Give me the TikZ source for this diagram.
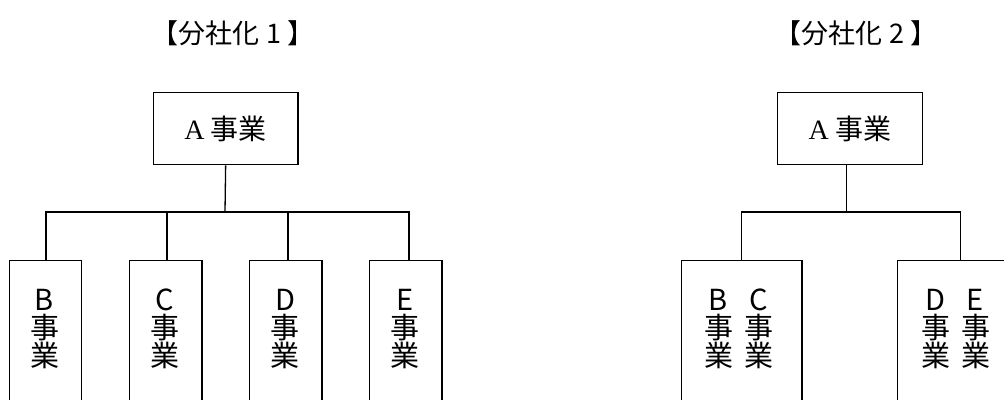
\documentclass[tikz,border=0pt]{standalone}
\usepackage{fontspec}
\setmainfont{Noto Sans CJK JP}
\newfontfamily\latinserif{Liberation Serif}
\begin{document}
\begin{tikzpicture}[x=1pt,y=-1pt,
  box/.style={draw=black,line width=1.3pt,inner sep=0pt,anchor=north west},
  conn/.style={draw=black,line width=1.3pt},
  ttl/.style={font=\fontsize{27}{30}\selectfont,inner sep=0pt},
  lbl/.style={font=\fontsize{28}{30}\selectfont,inner sep=0pt},
  vlbl/.style={font=\fontsize{29}{28}\selectfont,inner sep=0pt,align=center}]
\useasboundingbox (0,0) rectangle (1004,399);
\clip (0,0) rectangle (1004,399);
% titles
\node[ttl] (t1) at (233,33) {【分社化 1 】};
\node[ttl] (t2) at (856,33) {【分社化 2 】};
% left tree
\node[box,minimum width=144.6pt,minimum height=72.3pt] (A1) at (152.7,91.7) {};
\node[lbl] (A1t) at (A1.center) {{\latinserif A} 事業};
\node[box,minimum width=72.3pt,minimum height=160pt] (B) at (8.7,260) {};
\node[box,minimum width=72.3pt,minimum height=160pt] (C) at (129,260) {};
\node[box,minimum width=72.3pt,minimum height=160pt] (D) at (249,260) {};
\node[box,minimum width=72.3pt,minimum height=160pt] (E) at (369,260) {};
\node[vlbl] (Bt) at (44.5,329) {B\\事\\業};
\node[vlbl] (Ct) at (165,329) {C\\事\\業};
\node[vlbl] (Dt) at (285,329) {D\\事\\業};
\node[vlbl] (Et) at (405,329) {E\\事\\業};
\coordinate (bar1) at (225,212);
\draw[conn] (A1.south) -- (bar1);
\draw[conn] (bar1) -| ([xshift=0.5pt]B.north);
\draw[conn] (bar1) -| ([xshift=1.3pt]C.north);
\draw[conn] (bar1) -| ([xshift=2.1pt]D.north);
\draw[conn] (bar1) -| ([xshift=3.3pt]E.north);
% right tree
\node[box,minimum width=145pt,minimum height=72.3pt] (A2) at (776.7,91.7) {};
\node[lbl] (A2t) at (A2.center) {{\latinserif A} 事業};
\node[box,minimum width=120.3pt,minimum height=160pt] (BC) at (681,260) {};
\node[box,minimum width=120.3pt,minimum height=160pt] (DE) at (897,260) {};
\node[vlbl] (BCt1) at (718.5,329) {B\\事\\業};
\node[vlbl] (BCt2) at (759,329) {C\\事\\業};
\node[vlbl] (DEt1) at (935.5,329) {D\\事\\業};
\node[vlbl] (DEt2) at (975.5,329) {E\\事\\業};
\coordinate (bar2) at (846.7,212);
\draw[conn] (A2.south -| bar2) -- (bar2);
\draw[conn] (bar2) -| (BC.north);
\draw[conn] (bar2) -| ([xshift=3pt]DE.north);
\end{tikzpicture}
\end{document}
